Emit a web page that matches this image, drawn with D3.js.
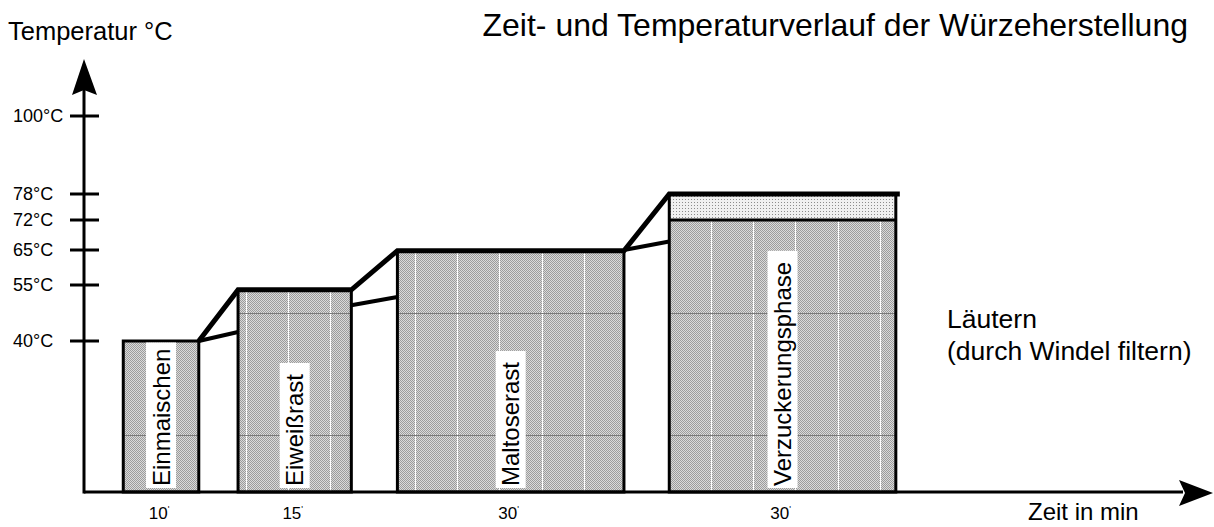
<!DOCTYPE html>
<meta charset="utf-8">
<script src="https://d3js.org/d3.v7.min.js"></script>
<style>
  body { margin: 0; background: #fff; }
  text { font-family: Arial, "Liberation Sans", sans-serif; fill: #000; }
</style>
<body>
  <div id="container"></div>
</body>
<script>
    // phases of the mash (time in minutes, temperature in °C)
    var phases = ["Einmaischen", "Eiweißrast", "Maltoserast", "Verzuckerungsphase"];
    var startMin = [5.2, 20.4, 41.5, 77.5];
    var durationMin = [10, 15, 30, 30];
    var restTemp = [40, 53.7, 64.8, 78];
    var innerTemp = [null, null, null, 72];      // lower hatched part of the last phase
    // thinner "actual" heating lines between the phases
    var lowerFrom = [40, 49.6, 65];
    var lowerTo = [42.4, 51.8, 67];
    // y axis ticks
    var tickTemps = [40, 55, 65, 72, 78, 100];
    var tickLabels = ["40°C", "55°C", "65°C", "72°C", "78°C", "100°C"];
    // faint grid visible inside the bars
    var gridTemps = [15, 47.5];
    var gridTimes = d3.range(21.4, 110, 5.6);

    var width = 1214, height = 527;

    var svg = d3.select("#container")
      .append("svg")
      .attr("width", width)
      .attr("height", height);

    // the original axis is not evenly spaced, so use a piecewise scale
    var y = d3.scaleLinear()
      .domain([0, 40, 55, 65, 72, 78, 100])
      .range([492, 341, 285, 250, 220, 194, 116]);
    var x = d3.scaleLinear()
      .domain([0, 149.5])
      .range([84, 1213]);

    var defs = svg.append("defs");
    var hatch = defs.append("pattern")
      .attr("id", "hatch")
      .attr("patternUnits", "userSpaceOnUse")
      .attr("width", 2).attr("height", 2);
    hatch.append("rect").attr("width", 2).attr("height", 2).attr("fill", "#dadada");
    hatch.append("rect").attr("x", 0).attr("y", 0).attr("width", 1).attr("height", 1).attr("fill", "#9c9c9c");
    hatch.append("rect").attr("x", 1).attr("y", 1).attr("width", 1).attr("height", 1).attr("fill", "#9c9c9c");

    var dots = defs.append("pattern")
      .attr("id", "dots")
      .attr("patternUnits", "userSpaceOnUse")
      .attr("width", 3).attr("height", 3);
    dots.append("rect").attr("width", 3).attr("height", 3).attr("fill", "#f0f0f0");
    dots.append("rect").attr("x", 1).attr("y", 1).attr("width", 1).attr("height", 1).attr("fill", "#8c8c8c");

    var bars = phases.map(function(p, i) {
      return {
        name: p, i: i,
        x0: x(startMin[i]), x1: x(startMin[i] + durationMin[i]),
        top: y(restTemp[i]),
        hatchTop: innerTemp[i] == null ? y(restTemp[i]) : y(innerTemp[i])
      };
    });

    // clip paths so the grid only shows inside the hatched parts
    bars.forEach(function(b) {
      defs.append("clipPath").attr("id", "clip" + b.i)
        .append("rect")
        .attr("x", b.x0).attr("y", b.hatchTop)
        .attr("width", b.x1 - b.x0).attr("height", y(0) - b.hatchTop);
    });

    var g = svg.append("g");

    bars.forEach(function(b) {
      // dotted top part (only where the inner temperature differs)
      if (b.hatchTop !== b.top) {
        g.append("rect")
          .attr("x", b.x0).attr("y", b.top)
          .attr("width", b.x1 - b.x0).attr("height", b.hatchTop - b.top)
          .attr("fill", "url(#dots)");
      }
      g.append("rect")
        .attr("x", b.x0).attr("y", b.hatchTop)
        .attr("width", b.x1 - b.x0).attr("height", y(0) - b.hatchTop)
        .attr("fill", "url(#hatch)");

      var grid = g.append("g").attr("clip-path", "url(#clip" + b.i + ")");
      grid.selectAll("line.v")
        .data(gridTimes)
        .enter()
        .append("line")
          .attr("x1", function(d) { return Math.round(x(d)) + 0.5; })
          .attr("x2", function(d) { return Math.round(x(d)) + 0.5; })
          .attr("y1", b.hatchTop).attr("y2", y(0))
          .attr("stroke", "#fff").attr("stroke-width", 1);
      grid.selectAll("line.h")
        .data(gridTemps)
        .enter()
        .append("line")
          .attr("x1", b.x0).attr("x2", b.x1)
          .attr("y1", function(d) { return Math.round(y(d)) + 0.5; })
          .attr("y2", function(d) { return Math.round(y(d)) + 0.5; })
          .attr("stroke", "#7a7a7a").attr("stroke-width", 1);

      if (b.hatchTop !== b.top) {
        g.append("line")
          .attr("x1", b.x0).attr("x2", b.x1)
          .attr("y1", b.hatchTop).attr("y2", b.hatchTop)
          .attr("stroke", "#000").attr("stroke-width", 3);
      }
      g.append("rect")
        .attr("x", b.x0).attr("y", b.top)
        .attr("width", b.x1 - b.x0).attr("height", y(0) - b.top)
        .attr("fill", "none")
        .attr("stroke", "#000").attr("stroke-width", 3);

      // vertical phase label on a white box
      var cx = (b.x0 + b.x1) / 2;
      var bottom = y(0) - 6;
      var label = g.append("text")
        .attr("transform", "translate(" + cx + "," + bottom + ") rotate(-90)")
        .attr("dy", "0.36em")
        .attr("font-size", 24)
        .text(b.name);
      var len = label.node().getComputedTextLength();
      var boxTop = Math.max(bottom - len - 11, b.hatchTop + 1.5);
      g.insert("rect", function() { return label.node(); })
        .attr("x", cx - 15).attr("y", boxTop)
        .attr("width", 30).attr("height", y(0) - 4 - boxTop)
        .attr("fill", "#fff");

      // duration under the bar
      var dur = g.append("text")
        .attr("x", cx - 2).attr("y", 519)
        .attr("text-anchor", "middle")
        .attr("font-size", 17)
        .text(durationMin[b.i]);
      dur.append("tspan")
        .attr("font-size", 9).attr("dy", -7)
        .text("'");
    });

    // thin heating lines
    g.selectAll("line.lower")
      .data(lowerFrom)
      .enter()
      .append("line")
        .attr("x1", function(d, i) { return bars[i].x1; })
        .attr("y1", function(d) { return y(d); })
        .attr("x2", function(d, i) { return bars[i + 1].x0; })
        .attr("y2", function(d, i) { return y(lowerTo[i]); })
        .attr("stroke", "#000").attr("stroke-width", 4);

    // thick temperature course
    var pts = [[bars[0].x1, bars[0].top]];
    for (var i = 1; i < bars.length; i++) {
      pts.push([bars[i].x0, bars[i].top]);
      pts.push([bars[i].x1 + (i === bars.length - 1 ? 4 : 0), bars[i].top]);
    }
    g.append("path")
      .attr("d", d3.line()(pts))
      .attr("fill", "none")
      .attr("stroke", "#000").attr("stroke-width", 5)
      .attr("stroke-linejoin", "miter");

    // axes with arrows
    var x0 = x(0), y0 = y(0), xEnd = x.range()[1], yTop = 59;
    svg.append("line")
      .attr("x1", x0).attr("y1", y0).attr("x2", xEnd - 30).attr("y2", y0)
      .attr("stroke", "#000").attr("stroke-width", 3);
    svg.append("path")
      .attr("d", "M" + xEnd + "," + (y0 + 1) + "L" + (xEnd - 34) + "," + (y0 - 12) +
                 "L" + (xEnd - 28) + "," + (y0 + 1) + "L" + (xEnd - 34) + "," + (y0 + 14) + "Z")
      .attr("fill", "#000");
    svg.append("line")
      .attr("x1", x0).attr("y1", y0 + 1.5).attr("x2", x0).attr("y2", yTop + 30)
      .attr("stroke", "#000").attr("stroke-width", 3);
    svg.append("path")
      .attr("d", "M" + x0 + "," + yTop + "L" + (x0 + 13) + "," + (yTop + 36) +
                 "L" + x0 + "," + (yTop + 31) + "L" + (x0 - 12) + "," + (yTop + 36) + "Z")
      .attr("fill", "#000");

    var ticks = svg.append("g");
    ticks.selectAll("line")
      .data(tickTemps)
      .enter()
      .append("line")
        .attr("x1", x0 - 14).attr("x2", x0 + 15)
        .attr("y1", function(d) { return y(d); })
        .attr("y2", function(d) { return y(d); })
        .attr("stroke", "#000").attr("stroke-width", 3);
    ticks.selectAll("text")
      .data(tickTemps)
      .enter()
      .append("text")
        .attr("x", 13)
        .attr("y", function(d) { return y(d) + 6; })
        .attr("font-size", 18)
        .text(function(d, i) { return tickLabels[i]; });

    // titles
    svg.append("text")
      .attr("x", 8).attr("y", 40)
      .attr("font-size", 25.5)
      .text("Temperatur °C");
    svg.append("text")
      .attr("x", 1188).attr("y", 36)
      .attr("text-anchor", "end")
      .attr("font-size", 32)
      .text("Zeit- und Temperaturverlauf der Würzeherstellung");
    svg.append("text")
      .attr("x", 947).attr("y", 328)
      .attr("font-size", 26.5)
      .text("Läutern");
    svg.append("text")
      .attr("x", 947).attr("y", 360)
      .attr("font-size", 26.5)
      .text("(durch Windel filtern)");
    svg.append("text")
      .attr("x", 1028).attr("y", 520)
      .attr("font-size", 24)
      .text("Zeit in min");
</script>
